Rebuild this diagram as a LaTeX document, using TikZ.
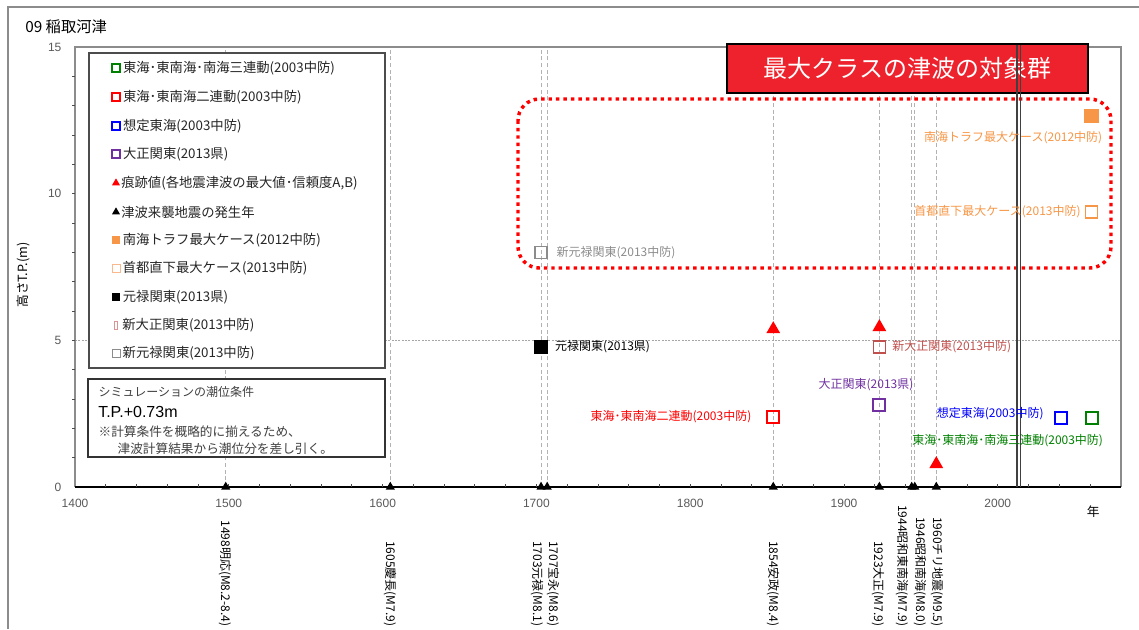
\documentclass[tikz,border=0pt]{standalone}
\usepackage{fontspec}
\setmainfont{Liberation Sans}
\newfontfamily\jp{Noto Sans CJK JP}
\usetikzlibrary{shapes.geometric,positioning}

\definecolor{mgreen}{RGB}{0,128,0}
\definecolor{mred}{RGB}{255,0,0}
\definecolor{mblue}{RGB}{0,0,255}
\definecolor{mpurple}{RGB}{112,48,160}
\definecolor{morange}{RGB}{247,150,70}
\definecolor{mlorange}{RGB}{250,185,140}
\definecolor{mbrown}{RGB}{192,80,77}
\definecolor{mgray}{RGB}{140,140,140}
\definecolor{bannerred}{RGB}{238,34,44}

\begin{document}
\begin{tikzpicture}[x=0.75pt, y=-0.75pt,
    data/.style={x=1.1535pt, y=22pt, shift={(-1558.65pt,-365.25pt)}},
    opensq/.style={draw, line width=1.5pt, minimum size=9pt, inner sep=0pt},
    fullsq/.style={minimum size=10.5pt, inner sep=0pt},
    tri/.style={regular polygon, regular polygon sides=3, fill=mred, inner sep=0pt, minimum size=12pt},
    evtri/.style={regular polygon, regular polygon sides=3, fill=black, inner sep=0pt, minimum size=8pt},
    ptlabel/.style={font=\jp\fontsize{9}{10}\selectfont, inner sep=1pt},
    evlabel/.style={font=\jp\fontsize{9}{10}\selectfont, rotate=-90, anchor=east, inner sep=0pt},
    ticklab/.style={font=\fontsize{9}{10}\selectfont, text=black!65, inner sep=0pt},
    legtext/.style={font=\jp\fontsize{10}{12}\selectfont, anchor=west, inner sep=0pt, text=black!85},
    legsq/.style={draw, line width=1.1pt, minimum size=6pt, inner sep=0pt},
    evline/.style={black!30, dash pattern=on 3pt off 2pt, line width=0.6pt}]
    \useasboundingbox (0,0) rectangle (1139,629);
    \draw[black!45, line width=0.8pt] (8,629) -- (8,7) -- (1139,7);
    \node[font=\jp\fontsize{11.5}{13}\selectfont, anchor=west, inner sep=0pt] (title) at (25,27) {09 稲取河津};
    \node[font=\jp\fontsize{9.5}{11}\selectfont, rotate=90, inner sep=0pt] (ylab) at (23,275) {高さT.P.(m)};

    % axes and grid
    \begin{scope}[data]
        \draw[black!35, dash pattern=on 1.5pt off 1pt, line width=0.6pt] (1400,5) -- (2080,5);
        \foreach \yr in {1498,1605,1703,1707,1854,1923,1944,1946,1960}
            \draw[evline] (\yr,0) -- (\yr,15);
        \draw[black!45, line width=1.2pt] (1400,0) -- (1400,15) -- (2080,15) -- (2080,0);
        \draw[black, line width=1.2pt] (1400,0) -- (2080,0);
        \foreach \t in {1420,1440,...,2060}
            \draw[black!70, line width=0.6pt] (\t,0) -- ++(0,2.5pt);
        \foreach \t in {1,...,14}
            \draw[black!70, line width=0.6pt] (1400,\t) -- ++(-2.5pt,0);
        \foreach \t in {1400,1500,...,2000}
            \node[ticklab, anchor=north] (x\t) at ([yshift=-9pt]\t,0) {\t};
        \foreach \h in {0,5,10,15}
            \node[ticklab, anchor=east] (y\h) at ([xshift=-10pt]1400,\h) {\h};
        \node[font=\jp\fontsize{9.5}{11}\selectfont, inner sep=0pt] (nen) at (2062,-0.85) {年};
        \foreach \yr in {1498,1605,1703,1707,1854,1923,1944,1946,1960}
            \node[evtri] (ev\yr) at (\yr,0) {};
        \node[evlabel] (l1498) at (1497.5,-4.76) {1498明応(M8.2-8.4)};
        \node[evlabel] (l1605) at (1604.8,-4.76) {1605慶長(M7.9)};
        \node[evlabel] (l1703) at (1700.4,-4.76) {1703元禄(M8.1)};
        \node[evlabel] (l1707) at (1710.8,-4.76) {1707宝永(M8.6)};
        \node[evlabel] (l1854) at (1853.8,-4.76) {1854安政(M8.4)};
        \node[evlabel] (l1923) at (1922.1,-4.76) {1923大正(M7.9)};
        \node[evlabel] (l1944) at (1937.7,-4.76) {1944昭和東南海(M7.9)};
        \node[evlabel] (l1946) at (1949.4,-4.76) {1946昭和南海(M8.0)};
        \node[evlabel] (l1960) at (1960.5,-4.76) {1960チリ地震(M9.5)};
    \end{scope}

    % legend
    \draw[black!70, line width=1.1pt, fill=white] (89,53) rectangle (385,368);
    \node[legsq, draw=mgreen] (lg1) at (116,68) {};
    \node[legtext, right=1.5pt of lg1] (lt1) {東海･東南海･南海三連動(2003中防)};
    \node[legsq, draw=mred] (lg2) at (116,97) {};
    \node[legtext, right=1.5pt of lg2] (lt2) {東海･東南海二連動(2003中防)};
    \node[legsq, draw=mblue] (lg3) at (116,126) {};
    \node[legtext, right=1.5pt of lg3] (lt3) {想定東海(2003中防)};
    \node[legsq, draw=mpurple] (lg4) at (116,154) {};
    \node[legtext, right=1.5pt of lg4] (lt4) {大正関東(2013県)};
    \node[tri, minimum size=7pt] (lg5) at (116,183) {};
    \node[legtext, right=1.5pt of lg5] (lt5) {痕跡値(各地震津波の最大値･信頼度A,B)};
    \node[evtri, minimum size=7pt] (lg6) at (116,212) {};
    \node[legtext, right=1.5pt of lg6] (lt6) {津波来襲地震の発生年};
    \node[fullsq, fill=morange, minimum size=6.5pt] (lg7) at (116,240) {};
    \node[legtext, right=1.5pt of lg7] (lt7) {南海トラフ最大ケース(2012中防)};
    \node[legsq, draw=mlorange, line width=0.7pt] (lg8) at (116,268) {};
    \node[legtext, right=1.5pt of lg8] (lt8) {首都直下最大ケース(2013中防)};
    \node[fullsq, fill=black, minimum size=6.5pt] (lg9) at (116,297) {};
    \node[legtext, right=1.5pt of lg9] (lt9) {元禄関東(2013県)};
    \node[legsq, draw=mbrown!60, line width=0.6pt, minimum width=2.5pt] (lg10) at (116,325) {};
    \node[legtext, right=3pt of lg10] (lt10) {新大正関東(2013中防)};
    \node[legsq, draw=mgray, line width=0.6pt] (lg11) at (116,353) {};
    \node[legtext, right=1.5pt of lg11] (lt11) {新元禄関東(2013中防)};

    % tide condition
    \draw[black!80, line width=1.1pt, fill=white] (88,379) rectangle (385,457);
    \node[ptlabel, anchor=west, text=black!75] (sim1) at (97,392) {シミュレーションの潮位条件};
    \node[font=\fontsize{12}{14}\selectfont, anchor=west, inner sep=0pt] (sim2) at (98,412) {T.P.+0.73m};
    \node[ptlabel, font=\jp\fontsize{9.5}{11}\selectfont, anchor=west, text=black!75] (sim3) at (97,432) {※計算条件を概略的に揃えるため、};
    \node[ptlabel, font=\jp\fontsize{9.5}{11}\selectfont, anchor=west, text=black!75] (sim4) at (116,449) {津波計算結果から潮位分を差し引く。};

    % max class group
    \draw[mred, line width=2.6pt, dash pattern=on 2.6pt off 3pt, rounded corners=16pt] (518,99) rectangle (1111,268);
    \node[fill=bannerred, draw=black, line width=1.5pt, minimum width=270.75pt, minimum height=36.75pt,
          text=white, font=\jp\fontsize{18}{20}\selectfont] (banner) at (907.5,68.5) {最大クラスの津波の対象群};
    \draw[black!75, line width=1pt] (1017,45) -- (1017,487);
    \draw[black!75, line width=1pt] (1020.5,45) -- (1020.5,487);

    % points
    \begin{scope}[data]
        \node[opensq, draw=mgray, line width=1pt] (nglk) at (1703,8.0) {};
        \node[ptlabel, text=mgray, right=5.5pt of nglk] (nglklab) {新元禄関東(2013中防)};
        \node[fullsq, fill=black] (glk) at (1703,4.77) {};
        \node[ptlabel, text=black, right=4pt of glk] (glklab) {元禄関東(2013県)};
        \node[tri] (ht1854) at (1854,5.38) {};
        \node[tri] (ht1923) at (1923,5.45) {};
        \node[tri] (ht1960) at (1960,0.78) {};
        \node[opensq, draw=mbrown, line width=1pt] (ntsk) at (1923,4.77) {};
        \node[ptlabel, text=mbrown, right=3.5pt of ntsk] (ntsklab) {新大正関東(2013中防)};
        \node[opensq, draw=mpurple] (tsk) at (1923,2.8) {};
        \node[ptlabel, text=mpurple, above=4pt of tsk, xshift=-10pt] (tsklab) {大正関東(2013県)};
        \node[opensq, draw=mred] (tt2) at (1854,2.39) {};
        \node[ptlabel, text=mred, left=10pt of tt2] (tt2lab) {東海･東南海二連動(2003中防)};
        \node[opensq, draw=mblue] (st) at (2041,2.35) {};
        \node[ptlabel, text=mblue, left=6.5pt of st, yshift=3.5pt] (stlab) {想定東海(2003中防)};
        \node[opensq, draw=mgreen] (tt3) at (2061,2.35) {};
        \node[ptlabel, text=mgreen, below=5.5pt of tt3.south east, anchor=north east, xshift=4.5pt] (tt3lab) {東海･東南海･南海三連動(2003中防)};
        \node[fullsq, fill=morange, minimum size=11pt] (nmax) at (2061,12.65) {};
        \node[ptlabel, text=morange, below=4.5pt of nmax.south east, anchor=north east, xshift=3.5pt] (nmaxlab) {南海トラフ最大ケース(2012中防)};
        \node[opensq, draw=morange, line width=1.1pt] (smax) at (2061,9.38) {};
        \node[ptlabel, text=morange, left=2pt of smax] (smaxlab) {首都直下最大ケース(2013中防)};
    \end{scope}
\end{tikzpicture}
\end{document}
